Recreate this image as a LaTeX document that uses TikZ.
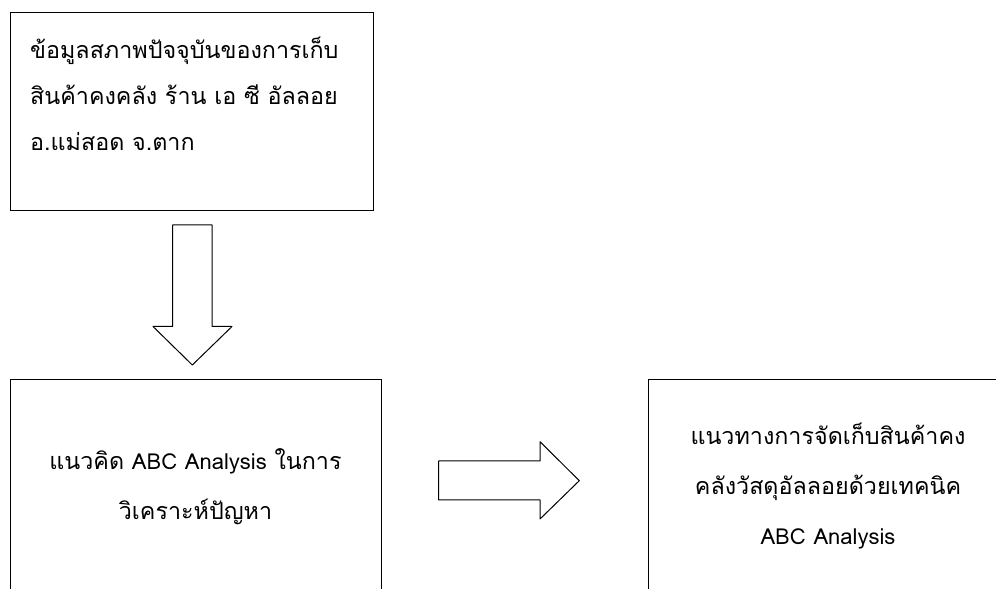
\documentclass[tikz,border=0pt]{standalone}
\usepackage{fontspec}
\newfontfamily\thaifont[Script=Thai]{Loma}
\usepackage{tkz-euclide}
\newcommand\latn[1]{{\fontsize{22}{50}\selectfont #1}}
\tikzset{
    box/.style={draw, line width=1pt, inner sep=0pt},
    txt/.style={inner sep=0pt, font=\thaifont\fontsize{23.3}{50}\selectfont}
}

\begin{document}
\begin{tikzpicture}[x=10pt,y=10pt]
        \useasboundingbox (0,0) rectangle (99.6,58.9);
        \tkzSetUpLine[color=black,line width=1pt]
        % boxes
        \node[box, minimum width=363pt, minimum height=198pt] (info) at (19.15,47.7) {};
        \node[box, minimum width=371pt, minimum height=240pt, anchor=north] (concept) at (19.55,21.0) {};
        \node[box, minimum width=360pt, minimum height=240pt, anchor=north west] (plan) at (64.8,21.0) {};
        % texts
        \node[txt, text width=345pt, align=left, anchor=base west,
              font=\thaifont\fontsize{23.3}{46}\selectfont] (infotext) at (3.0,53.0)
              {ข้อมูลสภาพปัจจุบันของการเก็บ\\สินค้าคงคลัง ร้าน เอ ซี อัลลอย\\อ.แม่สอด จ.ตาก};
        \node[txt, text width=350pt, align=center, anchor=base] (concepttext) at (19.55,11.9)
              {แนวคิด \latn{ABC Analysis} ในการ\\วิเคราะห์ปัญหา};
        \node[txt, text width=330pt, align=center, anchor=base] (plantext) at (82.8,14.4)
              {แนวทางการจัดเก็บสินค้าคง\\คลังวัสดุอัลลอยด้วยเทคนิค\\\latn{ABC Analysis}};
        % block arrows
        \tkzDefPoint(17.27,36.4){A}
        \tkzDefPoint(21.2,36.4){B}
        \tkzDefPoint(21.2,26.25){C}
        \tkzDefPoint(23.2,26.25){D}
        \tkzDefPoint(19.23,22.4){E}
        \tkzDefPoint(15.3,26.25){F}
        \tkzDefPoint(17.27,26.25){G}
        \tkzDrawPolygon(A,B,C,D,E,F,G)
        \tkzDefPoint(43.87,12.8){P}
        \tkzDefPoint(54.0,12.8){Q}
        \tkzDefPoint(54.0,14.73){R}
        \tkzDefPoint(57.93,10.83){S}
        \tkzDefPoint(54.0,7.0){T}
        \tkzDefPoint(54.0,8.9){U}
        \tkzDefPoint(43.87,8.9){V}
        \tkzDrawPolygon(P,Q,R,S,T,U,V)
    \end{tikzpicture}
\end{document}
